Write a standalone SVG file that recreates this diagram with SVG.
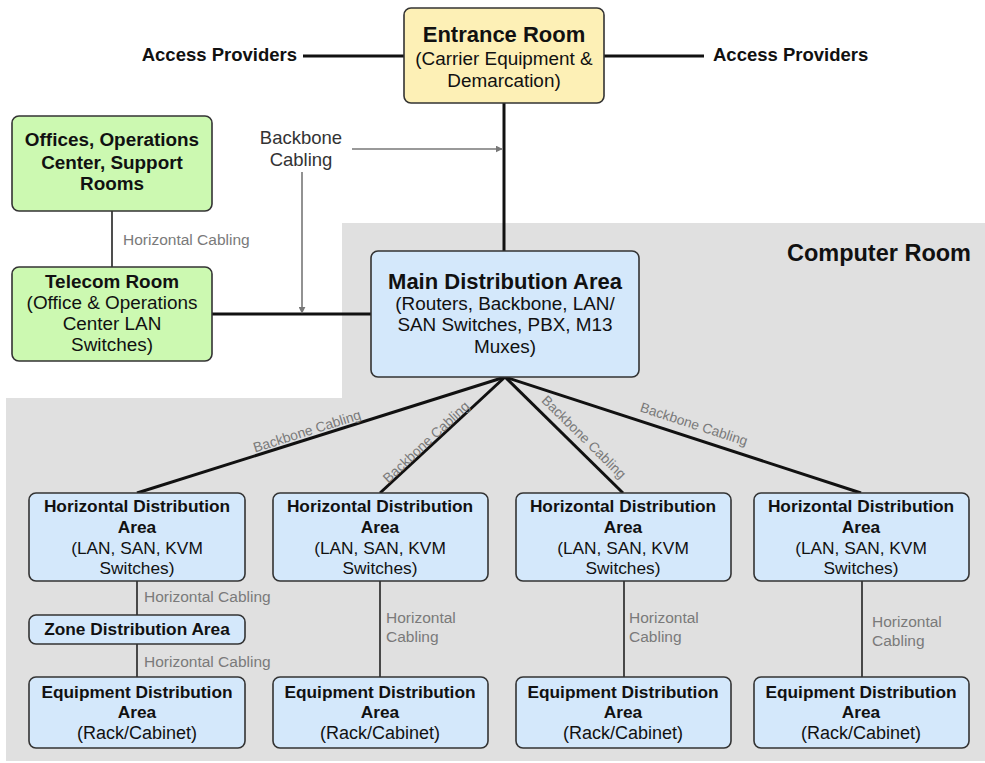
<svg xmlns="http://www.w3.org/2000/svg" width="985" height="763" viewBox="0 0 985 763">
<defs>
<style>
.box{stroke:#333;stroke-width:1.6}
.yel{fill:#fdf0b6}.grn{fill:#ccf9b1}.blu{fill:#d4e8fb}
text{font-family:"Liberation Sans",Arial,sans-serif;text-anchor:middle;fill:#111}
.b{font-weight:bold}
.t22{font-size:22px}.t19{font-size:18.9px}.t17{font-size:17.3px}
.lbl{font-size:15.5px;fill:#7a7a7a;text-anchor:start}
.bl{font-size:13.8px;fill:#7a7a7a}
.w{stroke:#111;stroke-width:3;fill:none}
.h{stroke:#222;stroke-width:1.6;fill:none}
.g{stroke:#777;stroke-width:1.6;fill:none}
</style>
<marker id="ar" viewBox="0 0 10 10" refX="9" refY="5" markerWidth="7" markerHeight="7" markerUnits="userSpaceOnUse" orient="auto"><path d="M0,0L10,5L0,10z" fill="#777"/></marker>
</defs>
<rect width="985" height="763" fill="#fff"/>
<polygon points="342,223 985,223 985,761 6,761 6,398 342,398" fill="#e0e0e0"/>
<text class="b" x="971" y="261" style="font-size:23.5px;text-anchor:end">Computer Room</text>

<g id="connectors">
<line class="w" x1="303" y1="56" x2="404" y2="56"/>
<line class="w" x1="604" y1="56" x2="704" y2="56"/>
<line class="w" x1="504" y1="103" x2="504" y2="251"/>
<line class="h" x1="112" y1="211" x2="112" y2="267"/>
<line class="w" x1="212" y1="314" x2="371" y2="314"/>
<line class="g" x1="352" y1="149" x2="502" y2="149" marker-end="url(#ar)"/>
<line class="g" x1="302" y1="172" x2="302" y2="313" marker-end="url(#ar)"/>
<line class="w" x1="505" y1="377" x2="137" y2="493"/>
<line class="w" x1="505" y1="377" x2="380" y2="493"/>
<line class="w" x1="505" y1="377" x2="623" y2="493"/>
<line class="w" x1="505" y1="377" x2="861" y2="493"/>
<line class="h" x1="137" y1="581" x2="137" y2="615"/>
<line class="h" x1="137" y1="644" x2="137" y2="677"/>
<line class="h" x1="380" y1="581" x2="380" y2="677"/>
<line class="h" x1="624" y1="581" x2="624" y2="677"/>
<line class="h" x1="862" y1="581" x2="862" y2="677"/>
<text class="b" x="297" y="61" style="font-size:18.5px;text-anchor:end">Access Providers</text>
<text class="b" x="713" y="61" style="font-size:18.5px;text-anchor:start">Access Providers</text>
<text x="301" y="144" style="font-size:18.5px;fill:#333">Backbone</text>
<text x="301" y="166" style="font-size:18.5px;fill:#333">Cabling</text>
<text class="lbl" x="123" y="245">Horizontal Cabling</text>
<text class="bl" dy=".35em" transform="translate(307,431) rotate(-17.5)">Backbone Cabling</text>
<text class="bl" dy=".35em" transform="translate(426,442) rotate(-43)">Backbone Cabling</text>
<text class="bl" dy=".35em" transform="translate(584,437) rotate(44.5)">Backbone Cabling</text>
<text class="bl" dy=".35em" transform="translate(694,424) rotate(18)">Backbone Cabling</text>
<text class="lbl" x="144" y="602">Horizontal Cabling</text>
<text class="lbl" x="144" y="667">Horizontal Cabling</text>
<text class="lbl" x="386" y="623">Horizontal</text>
<text class="lbl" x="386" y="642">Cabling</text>
<text class="lbl" x="629" y="623">Horizontal</text>
<text class="lbl" x="629" y="642">Cabling</text>
<text class="lbl" x="872" y="627">Horizontal</text>
<text class="lbl" x="872" y="646">Cabling</text>
</g>

<g id="entrance">
<rect class="box yel" x="404" y="8" width="200" height="95" rx="7"/>
<text class="b t22" x="504" y="42">Entrance Room</text>
<text class="t19" x="504" y="65">(Carrier Equipment &amp;</text>
<text class="t19" x="504" y="87">Demarcation)</text>
</g>

<g id="offices">
<rect class="box grn" x="12" y="116" width="200" height="95" rx="7"/>
<text class="b t19" x="112" y="146">Offices, Operations</text>
<text class="b t19" x="112" y="169">Center, Support</text>
<text class="b t19" x="112" y="190">Rooms</text>
</g>

<g id="telecom">
<rect class="box grn" x="12" y="267" width="200" height="94" rx="7"/>
<text class="b t19" x="112" y="288">Telecom Room</text>
<text class="t19" x="112" y="309">(Office &amp; Operations</text>
<text class="t19" x="112" y="330">Center LAN</text>
<text class="t19" x="112" y="351">Switches)</text>
</g>

<g id="mda">
<rect class="box blu" x="371" y="251" width="268" height="126" rx="7"/>
<text class="b t22" x="505" y="289">Main Distribution Area</text>
<text class="t19" x="505" y="310">(Routers, Backbone, LAN/</text>
<text class="t19" x="505" y="331">SAN Switches, PBX, M13</text>
<text class="t19" x="505" y="353">Muxes)</text>
</g>

<g id="hda1">
<rect class="box blu" x="29" y="493" width="216" height="88" rx="7"/>
<text class="b t17" x="137" y="512">Horizontal Distribution</text>
<text class="b t17" x="137" y="533">Area</text>
<text class="t17" x="137" y="554">(LAN, SAN, KVM</text>
<text class="t17" x="137" y="574">Switches)</text>
</g>
<g id="hda2">
<rect class="box blu" x="273" y="493" width="215" height="88" rx="7"/>
<text class="b t17" x="380" y="512">Horizontal Distribution</text>
<text class="b t17" x="380" y="533">Area</text>
<text class="t17" x="380" y="554">(LAN, SAN, KVM</text>
<text class="t17" x="380" y="574">Switches)</text>
</g>
<g id="hda3">
<rect class="box blu" x="516" y="493" width="215" height="88" rx="7"/>
<text class="b t17" x="623" y="512">Horizontal Distribution</text>
<text class="b t17" x="623" y="533">Area</text>
<text class="t17" x="623" y="554">(LAN, SAN, KVM</text>
<text class="t17" x="623" y="574">Switches)</text>
</g>
<g id="hda4">
<rect class="box blu" x="754" y="493" width="215" height="88" rx="7"/>
<text class="b t17" x="861" y="512">Horizontal Distribution</text>
<text class="b t17" x="861" y="533">Area</text>
<text class="t17" x="861" y="554">(LAN, SAN, KVM</text>
<text class="t17" x="861" y="574">Switches)</text>
</g>

<g id="zda">
<rect class="box blu" x="29" y="615" width="216" height="29" rx="7"/>
<text class="b t17" x="137" y="635">Zone Distribution Area</text>
</g>

<g id="eda1">
<rect class="box blu" x="29" y="677" width="216" height="71" rx="7"/>
<text class="b t17" x="137" y="698">Equipment Distribution</text>
<text class="b t17" x="137" y="718">Area</text>
<text class="t17" x="137" y="739" style="font-size:18px">(Rack/Cabinet)</text>
</g>
<g id="eda2">
<rect class="box blu" x="273" y="677" width="215" height="71" rx="7"/>
<text class="b t17" x="380" y="698">Equipment Distribution</text>
<text class="b t17" x="380" y="718">Area</text>
<text class="t17" x="380" y="739" style="font-size:18px">(Rack/Cabinet)</text>
</g>
<g id="eda3">
<rect class="box blu" x="516" y="677" width="215" height="71" rx="7"/>
<text class="b t17" x="623" y="698">Equipment Distribution</text>
<text class="b t17" x="623" y="718">Area</text>
<text class="t17" x="623" y="739" style="font-size:18px">(Rack/Cabinet)</text>
</g>
<g id="eda4">
<rect class="box blu" x="754" y="677" width="215" height="71" rx="7"/>
<text class="b t17" x="861" y="698">Equipment Distribution</text>
<text class="b t17" x="861" y="718">Area</text>
<text class="t17" x="861" y="739" style="font-size:18px">(Rack/Cabinet)</text>
</g>
</svg>
